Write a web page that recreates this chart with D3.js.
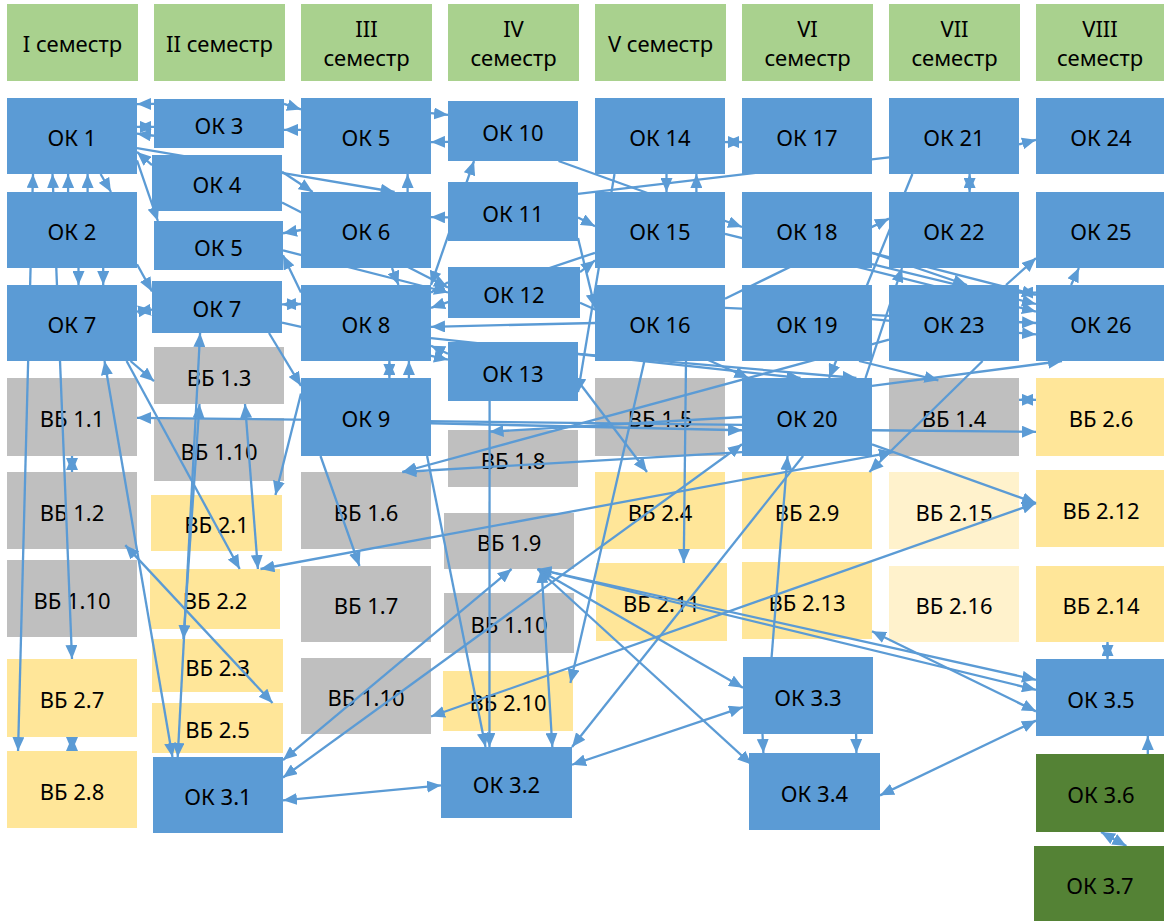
<!DOCTYPE html>
<html><head><meta charset="utf-8">
<script src="https://cdn.jsdelivr.net/npm/d3@7"></script>
<style>body{margin:0;background:#fff;overflow:hidden} text{font-family:"Noto Sans",sans-serif}</style>
</head><body>
<svg id="c" width="1164" height="921"></svg>
<script>
// ---------- data ----------
const headers = ["I семестр","II семестр","III|семестр","IV|семестр","V семестр","VI|семестр","VII|семестр","VIII|семестр"];

const nodeIds = ["ok1","ok2","ok7a","vb11","vb12","vb110a","vb27","vb28",
 "ok3","ok4","ok5a","ok7b","vb13","vb110b","vb21","vb22","vb23","vb25","ok31",
 "ok5b","ok6","ok8","ok9","vb16","vb17","vb110c",
 "ok10","ok11","ok12","ok13","vb18","vb19","vb110d","vb210","ok32",
 "ok14","ok15","ok16","vb15","vb24","vb211",
 "ok17","ok18","ok19","ok20","vb29","vb213","ok33","ok34",
 "ok21","ok22","ok23","vb14","vb215","vb216",
 "ok24","ok25","ok26","vb26","vb212","vb214","ok35","ok36","ok37"];
const nodeLabels = ["ОК 1","ОК 2","ОК 7","ВБ 1.1","ВБ 1.2","ВБ 1.10","ВБ 2.7","ВБ 2.8",
 "ОК 3","ОК 4","ОК 5","ОК 7","ВБ 1.3","ВБ 1.10","ВБ 2.1","ВБ 2.2","ВБ 2.3","ВБ 2.5","ОК 3.1",
 "ОК 5","ОК 6","ОК 8","ОК 9","ВБ 1.6","ВБ 1.7","ВБ 1.10",
 "ОК 10","ОК 11","ОК 12","ОК 13","ВБ 1.8","ВБ 1.9","ВБ 1.10","ВБ 2.10","ОК 3.2",
 "ОК 14","ОК 15","ОК 16","ВБ 1.5","ВБ 2.4","ВБ 2.11",
 "ОК 17","ОК 18","ОК 19","ОК 20","ВБ 2.9","ВБ 2.13","ОК 3.3","ОК 3.4",
 "ОК 21","ОК 22","ОК 23","ВБ 1.4","ВБ 2.15","ВБ 2.16",
 "ОК 24","ОК 25","ОК 26","ВБ 2.6","ВБ 2.12","ВБ 2.14","ОК 3.5","ОК 3.6","ОК 3.7"];
const nodeSemester = [0,0,0,0,0,0,0,0, 1,1,1,1,1,1,1,1,1,1,1, 2,2,2,2,2,2,2,
 3,3,3,3,3,3,3,3,3, 4,4,4,4,4,4, 5,5,5,5,5,5,5,5, 6,6,6,6,6,6, 7,7,7,7,7,7,7,7,7];
const nodeKinds = ["ok","ok","ok","vb1","vb1","vb1","vb2","vb2",
 "ok","ok","ok","ok","vb1","vb1","vb2","vb2","vb2","vb2","ok",
 "ok","ok","ok","ok","vb1","vb1","vb1",
 "ok","ok","ok","ok","vb1","vb1","vb1","vb2","ok",
 "ok","ok","ok","vb1","vb2","vb2",
 "ok","ok","ok","ok","vb2","vb2","ok","ok",
 "ok","ok","ok","vb1","vb3","vb3",
 "ok","ok","ok","vb2","vb2","vb2","ok","ok3","ok3"];

// links: from, fx, fy, to, tx, ty, heads (0 none, 1 end, 2 both)
const links = [
 ["ok3",0,0.1,"ok1",1,0.08,1],["ok1",1,0.38,"ok3",0,0.57,2],["ok3",0,0.75,"ok1",1,0.47,1],
 ["ok4",0,0.18,"ok1",1,0.71,1],["ok1",1,0.82,"ok5a",0.03,0,1],
 ["ok1",0.2,1,"vb28",0.085,0,2],["ok1",0.35,1,"vb27",0.5,0,2],
 ["ok2",0.47,0,"ok1",0.47,1,1],["ok2",0.62,0,"ok1",0.62,1,1],["ok1",0.72,1,"ok2",0.8,0,1],
 ["ok2",0.55,1,"ok7a",0.55,0,1],["ok2",0.74,1,"ok7a",0.74,0,1],["ok2",1,0.95,"ok7b",0,0.2,1],
 ["ok7b",0,0.55,"ok7a",1,0.35,2],["ok7a",0.95,1,"vb13",0,0.6,1],["ok7a",0.92,1,"vb22",0.69,0,1],
 ["vb12",0.91,0.95,"vb25",0.92,0,2],["ok7a",0.75,1,"ok31",0.15,0,2],["ok7b",0.37,1,"ok31",0.19,0,2],
 ["vb13",0.35,1,"vb23",0.24,0,2],["vb13",0.7,1,"vb22",0.83,0,2],
 ["ok7b",0.9,1,"ok9",0,0.1,1],["ok9",0,0.2,"vb21",0.95,0,1],
 ["ok20",0,0.6,"vb11",1,0.51,1],["ok9",1,0.58,"ok20",0,0.67,1],["ok20",0,0.5,"vb18",0.32,0.03,1],
 ["ok20",1,0.67,"vb26",0,0.69,1],["ok23",0,0.72,"vb16",0.78,0,1],["ok20",0,0.95,"vb16",0.78,0,1],
 ["vb11",0.5,1,"vb12",0.5,0,2],["vb27",0.5,1,"vb28",0.5,0,2],
 ["ok5b",0,0.42,"ok3",1,0.63,1],["ok3",1,0.1,"ok5b",0,0.15,1],["ok5b",1,0.2,"ok10",0,0.23,1],
 ["ok10",0,0.68,"ok5b",1,0.58,1],["ok4",1,0.3,"ok6",0.09,0,1],["ok1",1,0.66,"ok6",0.72,0,1],
 ["ok6",0.82,0,"ok5b",0.82,1,1],["ok4",1,0.85,"ok12",0,0.4,1],["ok6",0,0.5,"ok5a",1,0.25,1],
 ["ok8",0,0.1,"ok5a",1,0.7,1],["ok8",0,0.25,"ok7b",1,0.45,2],["ok6",0.7,1,"ok8",0.75,0,1],
 ["ok8",0.68,1,"ok9",0.68,0,2],["ok9",0.83,0,"ok8",0.83,1,1],["ok11",0,0.6,"ok6",1,0.33,1],
 ["ok8",1,0,"ok10",0.2,1,2],["ok12",0,0.3,"ok8",1,0.1,1],["ok16",0,0.5,"ok8",1,0.55,1],
 ["ok13",0,0.2,"ok8",1,0.8,1],["ok15",0,0.8,"ok8",1,0.3,1],["ok11",1,0.6,"ok15",0,0.45,1],
 ["ok13",0.32,1,"ok32",0.37,0,1],["ok9",0.97,1,"ok32",0.34,0,1],["ok9",0.15,1,"vb17",0.45,0,1],
 ["vb19",0.52,1,"ok31",1,0.04,2],["ok20",0,0.85,"ok31",1,0.27,2],
 ["vb19",0.72,1,"ok33",0,0.4,2],["vb19",0.72,1,"ok34",0.02,0.15,2],["vb19",0.72,1,"ok35",0,0.27,2],
 ["vb19",0.72,1,"ok35",0,0.4,1],["vb213",1,0.9,"ok35",0,0.68,2],["ok34",1,0.55,"ok35",0,0.8,2],
 ["vb19",0.75,1,"ok32",0.85,0,2],["ok33",0,0.65,"ok32",1,0.25,2],["ok20",0.47,1,"ok32",1,0,1],
 ["ok33",0.22,0,"ok20",0.35,1,1],["ok33",0.15,1,"ok34",0.11,0,1],["ok33",0.87,1,"ok34",0.82,0,1],
 ["ok16",0.7,1,"vb211",0.67,0,1],["ok13",1,0.66,"vb24",0.4,0,1],["ok20",1,0.85,"vb212",0,0.43,1],
 ["vb14",1,0.28,"vb26",0,0.28,2],["vb214",0.55,1,"ok35",0.55,0,2],["ok36",0.86,0,"ok35",0.86,1,1],
 ["ok36",0.5,1,"ok37",0.7,0,2],["ok14",1,0.58,"ok17",0,0.58,2],["ok21",1,0.61,"ok24",0,0.55,1],
 ["ok11",1,0.2,"ok21",0,0.78,0],["ok14",0.55,1,"ok15",0.55,0,1],["ok15",0.78,0,"ok14",0.78,1,1],
 ["ok21",0.62,1,"ok22",0.62,0,2],["ok16",1,0.18,"ok22",0,0.35,1],["ok21",0.18,1,"ok20",0.67,0,1],
 ["ok20",0.95,0,"ok22",0.1,1,1],["ok18",1,0.8,"ok23",0.6,0,1],["ok23",0.9,0,"ok25",0,0.87,1],
 ["ok26",0.27,0,"ok25",0.33,1,1],["ok18",1,0.8,"ok26",0,0.13,1],["ok18",1,0.95,"ok26",0,0.25,1],
 ["ok15",1,0.55,"ok26",0,0.35,1],["ok16",1,0.3,"ok26",0,0.5,1],["ok19",1,0.45,"ok26",0,0.65,1],
 ["ok26",0,0.1,"ok23",1,0.1,1],["ok20",1,0.1,"ok26",0.2,1,1],["ok23",0.72,1,"vb29",0.98,0,1],
 ["vb22",0.85,0,"vb14",0.03,0.95,2],["vb110c",1,0.77,"vb212",0,0.43,2],["ok19",0.9,1,"vb14",0.38,0.03,1],
 ["ok12",1,0.7,"ok20",0.05,0,1],["ok8",1,0.7,"ok20",0.45,0,1],["ok13",1,0.2,"ok20",0.88,0,1],
 ["ok12",1,0.1,"ok15",0,0.9,1],["ok11",1,0.95,"ok16",0,0.3,1],["ok16",0.38,1,"vb210",0.98,0.2,1],
 ["ok14",0.15,1,"ok13",1,0.85,1],["ok10",0.85,1,"ok18",0,0.46,1],["ok5a",1,0.6,"ok12",0,0.5,1],
 ["ok7b",1,0.8,"ok13",0,0.3,1],["ok31",1,0.57,"ok32",0,0.54,2]
];

// ---------- layout (positions / styles) ----------
const layout = { // top, bottom, left adjust, right adjust
 ok1:[98,174],ok2:[192,268],ok7a:[285,361],vb11:[378,456],vb12:[472,549],vb110a:[560,637],vb27:[659,737],vb28:[751,828],
 ok3:[99,148],ok4:[155,211,-2,-2],ok5a:[221,270,0,-1],ok7b:[281,333,-2,-2],vb13:[347,404],vb110b:[418,481],
 vb21:[495,551,-3,-2],vb22:[569,629,-4,-4],vb23:[639,692,-2,-1],vb25:[703,753,-2,-1],ok31:[757,833,-1,-1],
 ok5b:[98,174],ok6:[192,268],ok8:[285,361],ok9:[378,456],vb16:[472,549],vb17:[566,642],vb110c:[658,734],
 ok10:[101,161],ok11:[182,241],ok12:[267,318,0,2],ok13:[342,401],vb18:[430,487],vb19:[513,569,-4,-4],
 vb110d:[593,653,-4,-4],vb210:[671,731,-5,-5],ok32:[747,818,-7,-6],
 ok14:[98,174],ok15:[192,268],ok16:[285,361],vb15:[378,456],vb24:[472,549],vb211:[563,641,1,2],
 ok17:[98,174],ok18:[192,268],ok19:[285,361],ok20:[378,456],vb29:[472,549],vb213:[562,639],ok33:[657,734,1,1],ok34:[753,830,7,8],
 ok21:[98,174],ok22:[192,268],ok23:[285,361],vb14:[378,456],vb215:[472,549],vb216:[566,642],
 ok24:[98,174],ok25:[192,268],ok26:[285,361],vb26:[378,456],vb212:[470,547],vb214:[566,642],ok35:[659,736],ok36:[754,832],ok37:[846,921,-2,0]
};
const fills = {ok:"#5b9bd5", vb1:"#bfbfbf", vb2:"#ffe699", vb3:"#fff2cc", ok3:"#548235", head:"#a9d18e"};
const lineColor = "#5b9bd5";

const colX = d3.scaleLinear().domain([0,1]).range([7,154]);
const boxW = 130;

const nodes = nodeIds.map((id,i)=>{
  const L = layout[id];
  const x0 = colX(nodeSemester[i]) + (L[2]||0);
  const x1 = colX(nodeSemester[i]) + boxW + (L[3]||0);
  return {id, label:nodeLabels[i], kind:nodeKinds[i], x0, x1, y0:L[0], y1:L[1]};
});
const byId = Object.fromEntries(nodes.map(n=>[n.id,n]));

const svg = d3.select("#c");
const defs = svg.append("defs");
defs.append("marker").attr("id","ah").attr("viewBox","0 0 14 12").attr("refX",14).attr("refY",6)
  .attr("markerWidth",14).attr("markerHeight",12).attr("markerUnits","userSpaceOnUse")
  .attr("orient","auto-start-reverse")
  .append("path").attr("d","M0,0L14,6L0,12Z").attr("fill",lineColor);

// headers
const hg = svg.append("g");
headers.forEach((h,i)=>{
  const x0 = colX(i), x1 = i===7 ? 1164 : colX(i)+131;
  hg.append("rect").attr("x",x0).attr("y",4).attr("width",x1-x0).attr("height",77).attr("fill",fills.head);
  const parts = h.split("|");
  const t = hg.append("text").attr("x",(x0+x1)/2).attr("text-anchor","middle").attr("font-size",22).attr("fill","#000");
  if(parts.length===1){ t.attr("y",43).attr("dominant-baseline","central").text(parts[0]); }
  else {
    t.append("tspan").attr("x",(x0+x1)/2).attr("y",28).attr("dominant-baseline","central").text(parts[0]);
    t.append("tspan").attr("x",(x0+x1)/2).attr("y",57).attr("dominant-baseline","central").text(parts[1]);
  }
});

function drawBoxes(sel, list){
  const g = sel.selectAll("g.n").data(list).join("g").attr("class","n");
  g.append("rect").attr("x",d=>d.x0).attr("y",d=>d.y0).attr("width",d=>d.x1-d.x0).attr("height",d=>d.y1-d.y0)
    .attr("fill",d=>fills[d.kind]);
  g.append("text").attr("x",d=>(d.x0+d.x1)/2).attr("y",d=>(d.y0+d.y1)/2+1)
    .attr("text-anchor","middle").attr("dominant-baseline","central").attr("font-size",22).attr("fill","#000")
    .text(d=>d.label);
}
drawBoxes(svg.append("g"), nodes.filter(n=>n.kind.startsWith("vb")));

// links
const pt = (n,fx,fy)=>[n.x0+fx*(n.x1-n.x0), n.y0+fy*(n.y1-n.y0)];
const lg = svg.append("g");
links.forEach(l=>{
  const a = pt(byId[l[0]],l[1],l[2]), b = pt(byId[l[3]],l[4],l[5]);
  const ln = lg.append("line").attr("x1",a[0]).attr("y1",a[1]).attr("x2",b[0]).attr("y2",b[1])
    .attr("stroke",lineColor).attr("stroke-width",2.3);
  if(l[6]>=1) ln.attr("marker-end","url(#ah)");
  if(l[6]===2) ln.attr("marker-start","url(#ah)");
});

drawBoxes(svg.append("g"), nodes.filter(n=>!n.kind.startsWith("vb")));
</script>
</body></html>
